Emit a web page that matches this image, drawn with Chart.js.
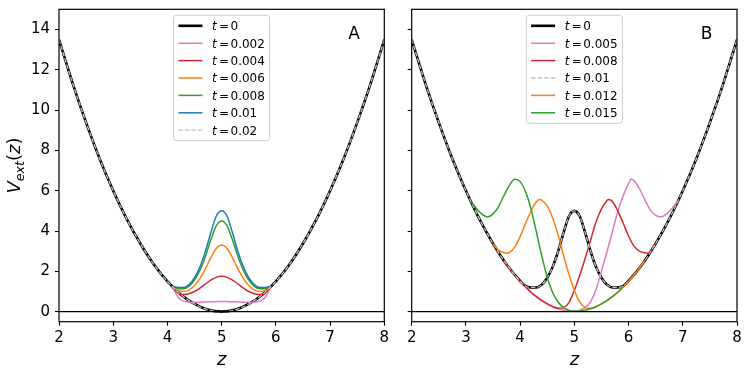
<!DOCTYPE html>
<html><head><meta charset="utf-8">
<script src="https://cdn.jsdelivr.net/npm/chart.js@4.4.0/dist/chart.umd.min.js"></script>
<style>
html,body{margin:0;padding:0;background:#fff;width:747px;height:374px;overflow:hidden}
canvas{position:absolute;top:0}
#cA{left:0}
#cB{left:400px}
</style></head><body>
<canvas id="cA" width="400" height="374"></canvas>
<canvas id="cB" width="347" height="374"></canvas>
<script>
// ---- ticks and labels ----
const xTicks = [2, 3, 4, 5, 6, 7, 8];
const yTicks = [0, 2, 4, 6, 8, 10, 12, 14];
const tLabelsA = ['0', '0.002', '0.004', '0.006', '0.008', '0.01', '0.02'];
const tLabelsB = ['0', '0.005', '0.008', '0.01', '0.012', '0.015'];

// ---- panel A data ----
const zPar = [2, 2.25, 2.5, 2.75, 3, 3.25, 3.5, 3.75, 4, 4.25, 4.5, 4.75, 5, 5.25, 5.5, 5.75, 6, 6.25, 6.5, 6.75, 7, 7.25, 7.5, 7.75, 8];
const vPar = [13.5, 11.34, 9.38, 7.59, 6.0, 4.59, 3.38, 2.34, 1.5, 0.84, 0.38, 0.09, 0.0, 0.09, 0.38, 0.84, 1.5, 2.34, 3.38, 4.59, 6.0, 7.59, 9.38, 11.34, 13.5];
const zA = [4.1, 4.2, 4.3, 4.4, 4.5, 4.6, 4.7, 4.8, 4.9, 5.0, 5.1, 5.2, 5.3, 5.4, 5.5, 5.6, 5.7, 5.8, 5.9];
const vA002 = [1.2, 0.7, 0.52, 0.47, 0.46, 0.47, 0.48, 0.49, 0.5, 0.5, 0.5, 0.49, 0.48, 0.47, 0.46, 0.47, 0.52, 0.7, 1.2];
const vA004 = [1.18, 0.92, 0.85, 0.89, 1.0, 1.17, 1.37, 1.56, 1.7, 1.75, 1.7, 1.56, 1.37, 1.17, 1.0, 0.89, 0.85, 0.92, 1.18];
const vA006 = [1.2, 1.04, 1.0, 1.08, 1.3, 1.65, 2.12, 2.67, 3.13, 3.3, 3.13, 2.67, 2.12, 1.65, 1.3, 1.08, 1.0, 1.04, 1.2];
const vA008 = [1.23, 1.14, 1.13, 1.26, 1.56, 2.05, 2.74, 3.55, 4.26, 4.5, 4.26, 3.55, 2.74, 2.05, 1.56, 1.26, 1.13, 1.14, 1.23];
const vA010 = [1.26, 1.2, 1.2, 1.34, 1.68, 2.22, 2.99, 3.91, 4.73, 5.0, 4.73, 3.91, 2.99, 2.22, 1.68, 1.34, 1.2, 1.2, 1.26];

// ---- panel B data ----
const zB0 = [2, 2.25, 2.5, 2.75, 3, 3.25, 3.5, 3.75, 4.0, 4.1, 4.2, 4.3, 4.4, 4.5, 4.6, 4.7, 4.8, 4.9, 5.0, 5.1, 5.2, 5.3, 5.4, 5.5, 5.6, 5.7, 5.8, 5.9, 6.0, 6.25, 6.5, 6.75, 7, 7.25, 7.5, 7.75, 8];
const vB0 = [13.5, 11.34, 9.38, 7.59, 6.0, 4.59, 3.38, 2.34, 1.52, 1.26, 1.2, 1.2, 1.34, 1.68, 2.22, 2.99, 3.91, 4.73, 5.0, 4.73, 3.91, 2.99, 2.22, 1.68, 1.34, 1.2, 1.2, 1.26, 1.52, 2.34, 3.38, 4.59, 6.0, 7.59, 9.38, 11.34, 13.5];
const vB010 = [13.5, 11.34, 9.38, 7.59, 6.0, 4.59, 3.38, 2.34, 1.52, 1.26, 1.2, 1.2, 1.34, 1.68, 2.22, 2.99, 3.91, 4.73, 5.0, 4.73, 3.91, 2.99, 2.22, 1.68, 1.34, 1.2, 1.2, 1.26, 1.52, 2.34, 3.38, 4.59, 6.0, 7.59, 9.38, 11.34, 13.5];
const zB005 = [4.1, 4.2, 4.3, 4.4, 4.5, 4.6, 4.7, 4.8, 4.9, 5.0, 5.1, 5.2, 5.3, 5.4, 5.5, 5.6, 5.7, 5.8, 5.9, 6.0, 6.05, 6.1, 6.2, 6.3, 6.4, 6.5, 6.6, 6.7, 6.8, 6.9];
const vB005 = [1.22, 0.96, 0.74, 0.54, 0.38, 0.24, 0.14, 0.07, 0.03, 0.03, 0.07, 0.2, 0.5, 1.1, 2.0, 2.95, 3.95, 4.95, 5.75, 6.35, 6.58, 6.5, 6.1, 5.55, 5.05, 4.78, 4.7, 4.85, 5.12, 5.45];
const zB008 = [3.7, 3.8, 3.9, 4.0, 4.1, 4.2, 4.3, 4.4, 4.5, 4.6, 4.7, 4.8, 4.9, 5.0, 5.1, 5.2, 5.3, 5.4, 5.5, 5.6, 5.63, 5.7, 5.8, 5.9, 6.0, 6.1, 6.2, 6.3, 6.35, 6.4, 6.5];
const vB008 = [2.54, 2.16, 1.82, 1.5, 1.22, 0.96, 0.74, 0.54, 0.38, 0.25, 0.17, 0.2, 0.45, 1.05, 1.8, 2.65, 3.55, 4.45, 5.1, 5.5, 5.56, 5.47, 5.0, 4.4, 3.75, 3.25, 3.0, 2.92, 2.9, 2.98, 3.38];
const zB012 = [3.5, 3.6, 3.7, 3.75, 3.8, 3.9, 4.0, 4.1, 4.2, 4.3, 4.36, 4.4, 4.5, 4.6, 4.7, 4.8, 4.9, 5.0, 5.1, 5.2, 5.3, 5.4, 5.5, 5.6, 5.7, 5.8, 5.9, 6.0, 6.1, 6.2, 6.3];
const vB012 = [3.38, 3.05, 2.93, 2.9, 2.93, 3.2, 3.72, 4.38, 4.98, 5.45, 5.56, 5.52, 5.25, 4.65, 3.8, 2.8, 1.85, 1.05, 0.48, 0.2, 0.16, 0.25, 0.38, 0.54, 0.74, 0.96, 1.22, 1.5, 1.82, 2.16, 2.54];
const zB015 = [3.1, 3.2, 3.3, 3.4, 3.5, 3.6, 3.7, 3.8, 3.9, 4.0, 4.1, 4.2, 4.3, 4.4, 4.5, 4.6, 4.7, 4.8, 4.9, 5.0, 5.1, 5.2, 5.3, 5.4, 5.5, 5.6, 5.7, 5.8, 5.9];
const vB015 = [5.42, 5.1, 4.83, 4.7, 4.85, 5.2, 5.75, 6.25, 6.57, 6.45, 5.95, 5.1, 3.95, 2.75, 1.7, 0.95, 0.48, 0.2, 0.07, 0.02, 0.03, 0.07, 0.14, 0.24, 0.38, 0.54, 0.74, 0.96, 1.22];
const zZero = [2, 8];
const vZero = [0, 0];

const COL = {black: '#000000', pink: '#e377c2', red: '#d62728', orange: '#ff7f0e', green: '#2ca02c', blue: '#1f77b4', gray: '#c0c0c0'};
const FONT = 'DejaVu Sans';

function pts(zs, vs) { return zs.map((z, i) => ({x: z, y: vs[i]})); }
function ds(tval, zs, vs, color, width, dash) {
  return {label: tval === null ? '' : 't = ' + tval, tval: tval, data: pts(zs, vs), borderColor: color,
    borderWidth: width, borderDash: dash || [], pointRadius: 0, fill: false,
    cubicInterpolationMode: 'monotone', borderCapStyle: 'butt', borderJoinStyle: 'round'};
}

function drawLegend(ctx, ca, items) {
  const fs = 12, bp = 4.8, hl = 24, htp = 9.6, ls = 6, rowH = 11.4;
  ctx.save();
  ctx.font = fs + 'px "' + FONT + '"';
  const tw = Math.max(...items.map(it => 18.5 + ctx.measureText(it.tval).width));
  const w = bp + hl + htp + tw + bp;
  const h = 2 * bp + items.length * rowH + (items.length - 1) * ls;
  const x0 = (ca.left + ca.right) / 2 - w / 2;
  const y0 = ca.top + 6;
  ctx.beginPath();
  if (ctx.roundRect) ctx.roundRect(x0, y0, w, h, 3); else ctx.rect(x0, y0, w, h);
  ctx.fillStyle = 'rgba(255,255,255,0.8)';
  ctx.fill();
  ctx.strokeStyle = '#cccccc';
  ctx.lineWidth = 1;
  ctx.stroke();
  items.forEach((it, i) => {
    const cy = y0 + bp + rowH / 2 + i * (rowH + ls);
    ctx.beginPath();
    ctx.setLineDash(it.borderDash || []);
    ctx.strokeStyle = it.borderColor;
    ctx.lineWidth = it.borderWidth;
    ctx.moveTo(x0 + bp, cy);
    ctx.lineTo(x0 + bp + hl, cy);
    ctx.stroke();
    ctx.setLineDash([]);
    const tx = x0 + bp + hl + htp;
    const by = cy + 4.3;
    ctx.fillStyle = '#000';
    ctx.textBaseline = 'alphabetic';
    ctx.textAlign = 'left';
    ctx.font = 'italic ' + fs + 'px "' + FONT + '"';
    ctx.fillText('t', tx, by);
    ctx.font = fs + 'px "' + FONT + '"';
    ctx.fillText('=', tx + 7, by);
    ctx.fillText(it.tval, tx + 18.5, by);
  });
  ctx.restore();
}

const decor = {
  id: 'decor',
  afterDraw(chart) {
    const o = chart.options.plugins.decor;
    const ctx = chart.ctx, ca = chart.chartArea;
    ctx.save();
    ctx.strokeStyle = '#000';
    ctx.lineWidth = 1.2;
    ctx.strokeRect(ca.left, ca.top, ca.right - ca.left, ca.bottom - ca.top);
    const items = chart.data.datasets.filter(d => d.tval !== null);
    drawLegend(ctx, ca, items);
    ctx.fillStyle = '#000';
    ctx.font = '17px "' + FONT + '"';
    ctx.textAlign = 'center';
    ctx.textBaseline = 'alphabetic';
    ctx.fillText(o.letter, ca.right - 30.3, ca.top + 30);
    ctx.font = 'italic 18px "' + FONT + '"';
    ctx.fillText('z', (ca.left + ca.right) / 2, 365);
    if (o.yTitle) {
      const parts = [
        {t: 'V', f: 'italic 18px "' + FONT + '"', dy: 0},
        {t: 'ext', f: 'italic 12.6px "' + FONT + '"', dy: 3.5},
        {t: '(', f: '18px "' + FONT + '"', dy: 0},
        {t: 'z', f: 'italic 18px "' + FONT + '"', dy: 0},
        {t: ')', f: '18px "' + FONT + '"', dy: 0}
      ];
      let total = 0;
      parts.forEach(p => { ctx.font = p.f; p.w = ctx.measureText(p.t).width; total += p.w; });
      ctx.translate(20, (ca.top + ca.bottom) / 2);
      ctx.rotate(-Math.PI / 2);
      ctx.textAlign = 'left';
      let x = -total / 2;
      parts.forEach(p => { ctx.font = p.f; ctx.fillText(p.t, x, p.dy); x += p.w; });
    }
    ctx.restore();
  }
};

function makeChart(id, datasets, yWidth, padRight, showYLabels, letter, yTitle) {
  datasets.forEach((d, i) => { d.order = datasets.length - i; });
  return new Chart(document.getElementById(id), {
    type: 'line',
    data: {datasets: datasets},
    plugins: [decor],
    options: {
      responsive: false, animation: false, devicePixelRatio: 1, events: [],
      layout: {padding: {left: 0, right: padRight, top: 9.3, bottom: 0}},
      plugins: {legend: {display: false}, tooltip: {enabled: false}, decor: {letter: letter, yTitle: yTitle}},
      scales: {
        x: {
          type: 'linear', min: 2, max: 8,
          afterBuildTicks: s => { s.ticks = xTicks.map(v => ({value: v})); },
          afterFit: s => { s.height = 52.3; s.paddingLeft = 0; s.paddingRight = 0; },
          ticks: {color: '#000', font: {family: FONT, size: 15}, padding: 3, maxRotation: 0, autoSkip: false},
          grid: {display: true, drawOnChartArea: false, drawTicks: true, tickLength: 4, tickWidth: 1.1, tickColor: '#000'},
          border: {display: false}
        },
        y: {
          type: 'linear', min: -0.5, max: 15,
          afterBuildTicks: s => { s.ticks = yTicks.map(v => ({value: v})); },
          afterFit: s => { s.width = yWidth; s.paddingTop = 0; s.paddingBottom = 0; },
          ticks: {color: '#000', font: {family: FONT, size: 15}, padding: 5, autoSkip: false,
            callback: v => showYLabels ? String(v) : ''},
          grid: {display: true, drawOnChartArea: false, drawTicks: true, tickLength: 4, tickWidth: 1.1, tickColor: '#000'},
          border: {display: false}
        }
      }
    }
  });
}

const dsA = [
  ds(tLabelsA[0], zPar, vPar, COL.black, 2.6),
  ds(tLabelsA[1], zA, vA002, COL.pink, 1.5),
  ds(tLabelsA[2], zA, vA004, COL.red, 1.5),
  ds(tLabelsA[3], zA, vA006, COL.orange, 1.5),
  ds(tLabelsA[4], zA, vA008, COL.green, 1.5),
  ds(tLabelsA[5], zA, vA010, COL.blue, 1.5),
  ds(tLabelsA[6], zPar, vPar, COL.gray, 1.3, [4.5, 2]),
  ds(null, zZero, vZero, COL.black, 1.2)
];
const dsB = [
  ds(tLabelsB[0], zB0, vB0, COL.black, 2.6),
  ds(tLabelsB[1], zB005, vB005, COL.pink, 1.5),
  ds(tLabelsB[2], zB008, vB008, COL.red, 1.5),
  ds(tLabelsB[3], zB0, vB010, COL.gray, 1.3, [4.5, 2]),
  ds(tLabelsB[4], zB012, vB012, COL.orange, 1.5),
  ds(tLabelsB[5], zB015, vB015, COL.green, 1.5),
  ds(null, zZero, vZero, COL.black, 1.2)
];

makeChart('cA', dsA, 59, 15.7, true, 'A', true);
makeChart('cB', dsB, 11.7, 10, false, 'B', false);
</script>
</body></html>
